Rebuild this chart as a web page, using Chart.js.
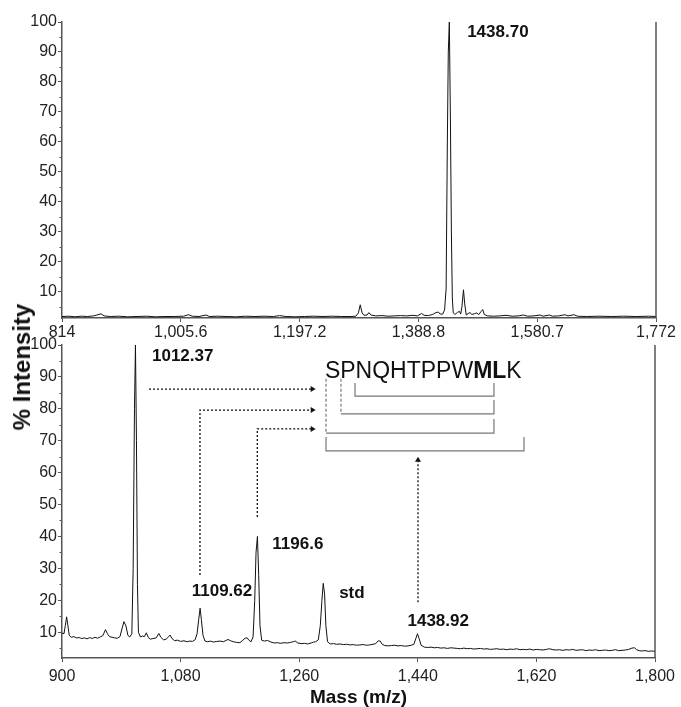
<!DOCTYPE html>
<html>
<head>
<meta charset="utf-8">
<script src="https://cdn.jsdelivr.net/npm/chart.js@4.4.1/dist/chart.umd.min.js"></script>
<style>
    body { margin: 0; background: #fff; }
    #wrap { position: relative; width: 681px; height: 707px; overflow: hidden; }
    canvas { position: absolute; left: 0; }
    #top { top: 0; }
    #bottom { top: 330px; }
    #ylabel {
        position: absolute; left: 22px; top: 367px;
        transform: translate(-50%, -50%) rotate(-90deg);
        font: bold 24px "Liberation Sans", Arial, sans-serif;
        white-space: nowrap; color: #111;
    }
</style>
</head>
<body>
<div id="wrap">
    <canvas id="top" width="681" height="345"></canvas>
    <canvas id="bottom" width="681" height="377"></canvas>
    <div id="ylabel">% Intensity</div>
</div>
<script>
// top spectrum (MS of the intact peptide)
const topMass = [814, 825, 835, 845, 855, 865, 872, 877, 882, 892, 905, 920, 935, 950, 965, 980, 995,
    1010, 1018, 1024, 1035, 1046, 1052, 1065, 1080, 1095, 1110, 1125, 1140, 1155, 1165, 1175, 1190,
    1205, 1220, 1235, 1250, 1265, 1280, 1288, 1292, 1295, 1298, 1301, 1306, 1309, 1312, 1320, 1330,
    1340, 1350, 1360, 1370, 1380, 1387, 1394, 1398, 1405, 1412, 1417, 1421, 1424, 1428, 1431, 1433.5,
    1435.5, 1437, 1438.7, 1440.5, 1442, 1443.5, 1445, 1448, 1452, 1455, 1457, 1459, 1461.5, 1463.5,
    1466, 1469, 1472, 1475, 1479, 1483, 1486, 1490, 1492.5, 1495, 1500, 1510, 1520, 1530, 1540, 1550,
    1558, 1565, 1575, 1585, 1590, 1600, 1605, 1615, 1625, 1630, 1640, 1645, 1660, 1680, 1700, 1720,
    1740, 1760, 1772];
const topIntensity = [1.8, 1.9, 1.7, 1.9, 1.8, 2.0, 2.4, 2.7, 2.0, 1.8, 1.9, 1.7, 1.8, 1.9, 1.7, 1.8, 1.8,
    1.9, 2.4, 1.9, 1.8, 2.3, 1.8, 1.9, 1.8, 1.7, 1.9, 1.8, 1.9, 1.8, 2.1, 1.8, 1.7,
    1.8, 1.9, 1.8, 1.9, 1.8, 1.8, 1.9, 3.0, 5.7, 3.0, 2.2, 2.3, 3.1, 2.3, 2.0, 2.1,
    1.9, 2.0, 2.1, 2.0, 2.2, 2.0, 2.8, 2.2, 2.1, 2.5, 3.1, 3.3, 2.6, 2.6, 4.0, 11,
    60, 90, 100, 66, 30, 8, 3.0, 2.5, 3.2, 3.5, 2.6, 5.0, 10.7, 6.0,
    2.3, 2.8, 3.1, 2.5, 2.7, 3.0, 2.4, 3.5, 4.1, 2.5, 2.0, 1.9, 2.0, 2.2, 1.9, 2.0,
    2.3, 1.9, 2.0, 2.3, 1.9, 2.3, 1.9, 2.0, 2.4, 2.0, 2.4, 1.9, 1.8, 1.9, 1.8, 1.9,
    1.8, 1.9, 1.8];

// bottom spectrum (digest)
const bottomMass = [900, 903, 905, 907, 909, 911, 914, 918, 922, 926, 930, 934, 938, 942, 946, 950, 954,
    958, 962, 966, 969, 972, 976, 980, 984, 988, 991, 994, 997, 1000, 1003, 1006, 1008, 1010, 1011.5,
    1013, 1014.5, 1016, 1019, 1022, 1025, 1028, 1031, 1034, 1038, 1043, 1047, 1050, 1054, 1058, 1062,
    1064, 1067, 1071, 1075, 1080, 1085, 1090, 1094, 1098, 1102, 1105, 1107.5, 1109.6, 1111.5, 1114,
    1117, 1121, 1125, 1130, 1135, 1140, 1145, 1149, 1152, 1156, 1160, 1165, 1170, 1174, 1178, 1181,
    1184, 1187, 1190, 1192.5, 1194.5, 1196.6, 1198.5, 1200.5, 1203, 1207, 1212, 1217, 1222, 1227,
    1232, 1237, 1242, 1247, 1251, 1254, 1258, 1263, 1268, 1273, 1278, 1282, 1285, 1289, 1292, 1294.5,
    1296.5, 1298.5, 1300.5, 1303, 1307, 1312, 1317, 1322, 1327, 1332, 1337, 1342, 1347, 1352, 1357,
    1362, 1367, 1372, 1376, 1380, 1383, 1386, 1390, 1395, 1400, 1405, 1410, 1415, 1420, 1425, 1430,
    1434, 1437, 1439.5, 1442, 1445, 1450, 1455, 1460, 1465, 1470, 1475, 1480, 1485, 1490, 1495, 1500,
    1505, 1510, 1515, 1520, 1525, 1530, 1535, 1540, 1545, 1550, 1555, 1560, 1565, 1570, 1575, 1580,
    1585, 1590, 1595, 1600, 1605, 1610, 1615, 1620, 1625, 1630, 1635, 1640, 1645, 1650, 1655, 1660,
    1665, 1670, 1675, 1680, 1685, 1690, 1695, 1700, 1705, 1710, 1715, 1720, 1725, 1730, 1735, 1740,
    1745, 1750, 1755, 1760, 1765, 1769, 1772, 1776, 1780, 1785, 1790, 1795, 1800];
const bottomIntensity = [9.7, 9.5, 12, 14.8, 12, 9, 8.4, 8.6, 8.2, 8.3, 8.0, 8.2, 7.9, 8.3, 8.0, 8.4, 8.1,
    8.5, 8.9, 10.8, 9.5, 8.6, 8.4, 8.2, 8.1, 8.6, 11, 13.3, 12, 9, 8.5, 9.5, 30, 80, 100,
    70, 25, 10, 8.5, 8.8, 8.6, 9.8, 8.3, 7.8, 8.0, 8.2, 9.6, 8.4, 7.6, 7.8, 8.6,
    9.1, 8.0, 7.3, 7.5, 7.1, 7.3, 7.0, 7.2, 7.1, 7.6, 9.5, 14, 17.5, 14, 9,
    7.2, 7.0, 7.2, 6.9, 7.1, 7.2, 7.0, 7.4, 7.7, 7.3, 7.0, 6.8, 6.7, 7.4, 8.1, 8.2,
    7.4, 7.0, 8.5, 20, 35, 40, 28, 12, 7.5, 7.2, 7.4, 6.9, 6.6, 6.7,
    6.5, 6.7, 6.6, 6.8, 7.0, 7.2, 6.6, 6.4, 6.5, 6.3, 6.6, 6.9, 7.0, 7.6, 12, 20,
    25.3, 22, 12, 7, 6.3, 6.4, 6.2, 6.3, 6.1, 6.2, 6.0, 6.1, 5.9, 6.0, 6.1,
    5.9, 6.0, 6.2, 6.4, 7.3, 7.2, 6.2, 5.8, 5.7, 5.8, 5.9, 5.7, 5.8, 5.6, 5.7, 5.9,
    6.2, 8, 9.5, 8, 5.9, 5.3, 5.2, 5.3, 5.1, 5.2, 5.0, 5.1, 4.9, 5.1, 5.0, 4.9,
    4.8, 5.0, 4.8, 4.9, 4.7, 4.8, 4.9, 4.7, 4.8, 4.6, 4.7, 4.8, 4.6, 4.7, 4.5, 4.7,
    4.6, 4.8, 4.5, 4.6, 4.5, 4.7, 4.4, 4.6, 4.5, 4.4, 4.6, 4.8, 4.5, 4.4, 4.5, 4.3,
    4.5, 4.4, 4.6, 4.3, 4.4, 4.5, 4.2, 4.4, 4.3, 4.5, 4.2, 4.3, 4.4, 4.2, 4.3, 4.5,
    4.2, 4.3, 4.4, 4.6, 5.0, 5.1, 4.5, 4.2, 4.1, 4.2, 4.0, 4.1, 4.0];

const topTicks = [814, 1005.6, 1197.2, 1388.8, 1580.4, 1772];
const topTickLabels = ["814", "1,005.6", "1,197.2", "1,388.8", "1,580.7", "1,772"];
const bottomTicks = [900, 1080, 1260, 1440, 1620, 1800];
const bottomTickLabels = ["900", "1,080", "1,260", "1,440", "1,620", "1,800"];
const yTicks = [10, 20, 30, 40, 50, 60, 70, 80, 90, 100];

const FONT = '"Liberation Sans", Arial, sans-serif';
const AXIS = "#555";

function toPoints(xs, ys) {
    return xs.map((x, i) => ({ x: x, y: ys[i] }));
}

// small ticks between labelled y ticks + right frame line
const framePlugin = {
    id: "frame",
    afterDraw(chart) {
        const ctx = chart.ctx;
        const a = chart.chartArea;
        const y = chart.scales.y;
        ctx.save();
        ctx.strokeStyle = AXIS;
        ctx.lineWidth = 1;
        for (let v = 5; v < 100; v += 10) {
            if (v < y.min) continue;
            const p = Math.round(y.getPixelForValue(v)) + 0.5;
            ctx.beginPath();
            ctx.moveTo(a.left - 2.5, p);
            ctx.lineTo(a.left, p);
            ctx.stroke();
        }
        ctx.lineWidth = 1.5;
        ctx.beginPath();
        ctx.moveTo(a.right, a.top);
        ctx.lineTo(a.right, a.bottom);
        ctx.stroke();
        ctx.restore();
    },
};

function drawLabels(chart, labels) {
    const ctx = chart.ctx;
    ctx.save();
    ctx.fillStyle = "#111";
    ctx.font = "bold 17px " + FONT;
    ctx.textBaseline = "middle";
    labels.forEach((l) => {
        ctx.textAlign = l.align || "center";
        ctx.fillText(l.text, chart.scales.x.getPixelForValue(l.m), chart.scales.y.getPixelForValue(l.v));
    });
    ctx.restore();
}

const topNotes = {
    id: "topNotes",
    afterDatasetsDraw(chart) {
        drawLabels(chart, [{ text: "1438.70", m: 1517, v: 96.7 }]);
    },
};

function arrowHead(ctx, x, y, dir) {
    ctx.beginPath();
    if (dir === "right") {
        ctx.moveTo(x, y);
        ctx.lineTo(x - 5, y - 3);
        ctx.lineTo(x - 5, y + 3);
    } else {
        ctx.moveTo(x, y);
        ctx.lineTo(x - 3, y + 5);
        ctx.lineTo(x + 3, y + 5);
    }
    ctx.closePath();
    ctx.fill();
}

const bottomNotes = {
    id: "bottomNotes",
    afterDatasetsDraw(chart) {
        const ctx = chart.ctx;
        const px = (m) => chart.scales.x.getPixelForValue(m);
        const py = (v) => chart.scales.y.getPixelForValue(v);

        drawLabels(chart, [
            { text: "1012.37", m: 1036.6, v: 96.5, align: "left" },
            { text: "1109.62", m: 1142.8, v: 22.9 },
            { text: "1196.6", m: 1258, v: 37.6 },
            { text: "std", m: 1340, v: 22.3 },
            { text: "1438.92", m: 1471, v: 13.5 },
        ]);

        // peptide sequence, M and L in bold
        ctx.save();
        ctx.fillStyle = "#111";
        ctx.textBaseline = "middle";
        ctx.textAlign = "left";
        let x = px(1299);
        const y = py(91.5);
        [["SPNQHTPPW", ""], ["ML", "bold "], ["K", ""]].forEach((part) => {
            ctx.font = part[1] + "23px " + FONT;
            ctx.fillText(part[0], x, y);
            x += ctx.measureText(part[0]).width;
        });

        // fragment brackets
        ctx.strokeStyle = "#777";
        ctx.lineWidth = 1.2;
        const solid = (pts) => {
            ctx.beginPath();
            pts.forEach((p, i) => (i ? ctx.lineTo(px(p[0]), py(p[1])) : ctx.moveTo(px(p[0]), py(p[1]))));
            ctx.stroke();
        };
        solid([[1344.7, 88.1], [1344.7, 84.0], [1555.6, 84.0], [1555.6, 88.1]]);
        solid([[1323.4, 78.4], [1555.6, 78.4], [1555.6, 82.8]]);
        solid([[1300.7, 72.4], [1555.6, 72.4], [1555.6, 76.8]]);
        solid([[1300.7, 71.2], [1300.7, 66.8], [1601.2, 66.8], [1601.2, 71.2]]);
        ctx.setLineDash([3, 2]);
        solid([[1323.4, 89.4], [1323.4, 78.4]]);
        solid([[1300.7, 89.4], [1300.7, 72.4]]);

        // dotted arrows from peaks to fragments
        ctx.strokeStyle = "#111";
        ctx.fillStyle = "#111";
        ctx.lineWidth = 1.3;
        ctx.setLineDash([2, 2]);
        solid([[1032, 86.2], [1281, 86.2]]);
        solid([[1109.4, 27.9], [1109.4, 79.6], [1281, 79.6]]);
        solid([[1196.4, 46.1], [1196.4, 73.7], [1281, 73.7]]);
        solid([[1440.3, 19.4], [1440.3, 63.5]]);
        ctx.setLineDash([]);
        arrowHead(ctx, px(1285), py(86.2), "right");
        arrowHead(ctx, px(1285), py(79.6), "right");
        arrowHead(ctx, px(1285), py(73.7), "right");
        arrowHead(ctx, px(1440.3), py(65), "up");
        ctx.restore();
    },
};

function makeChart(id, xs, ys, ticks, tickLabels, cfg) {
    const ctx = document.getElementById(id).getContext("2d");
    return new Chart(ctx, {
        type: "line",
        data: {
            datasets: [
                {
                    data: toPoints(xs, ys),
                    borderColor: "#111",
                    borderWidth: 1,
                    pointRadius: 0,
                    tension: 0,
                },
            ],
        },
        options: {
            responsive: false,
            animation: false,
            devicePixelRatio: 1,
            layout: { padding: { top: cfg.padTop, right: cfg.padRight, left: 0, bottom: 0 } },
            plugins: { legend: { display: false }, tooltip: { enabled: false } },
            scales: {
                x: {
                    type: "linear",
                    min: ticks[0],
                    max: ticks[ticks.length - 1],
                    afterBuildTicks: (s) => { s.ticks = ticks.map((v) => ({ value: v })); },
                    afterFit: (s) => { s.height = cfg.xHeight; },
                    ticks: {
                        autoSkip: false,
                        maxRotation: 0,
                        padding: cfg.xPad,
                        color: "#222",
                        font: { family: FONT, size: 16 },
                        callback: (v, i) => tickLabels[i],
                    },
                    grid: { drawOnChartArea: false, tickLength: 4, color: AXIS },
                    border: { color: AXIS, width: 1.5 },
                    title: cfg.xTitle
                        ? {
                              display: true,
                              text: cfg.xTitle,
                              color: "#111",
                              padding: 0,
                              font: { family: FONT, size: 19, weight: "bold", lineHeight: 1 },
                          }
                        : { display: false },
                },
                y: {
                    min: cfg.yMin,
                    max: 100,
                    afterBuildTicks: (s) => { s.ticks = yTicks.map((v) => ({ value: v })); },
                    afterFit: (s) => { s.width = 62; },
                    ticks: {
                        padding: 1,
                        color: "#222",
                        font: { family: FONT, size: 16 },
                        callback: (v) => String(v),
                    },
                    grid: { drawOnChartArea: false, tickLength: 4, color: AXIS },
                    border: { color: AXIS, width: 1.5 },
                },
            },
        },
        plugins: [framePlugin, cfg.notes],
    });
}

makeChart("top", topMass, topIntensity, topTicks, topTickLabels, {
    padTop: 22, padRight: 25, xHeight: 27, xPad: 1, yMin: 1.3, notes: topNotes,
});
makeChart("bottom", bottomMass, bottomIntensity, bottomTicks, bottomTickLabels, {
    padTop: 15, padRight: 26, xHeight: 49, xPad: 5, yMin: 1.9, notes: bottomNotes, xTitle: "Mass (m/z)",
});
</script>
</body>
</html>
